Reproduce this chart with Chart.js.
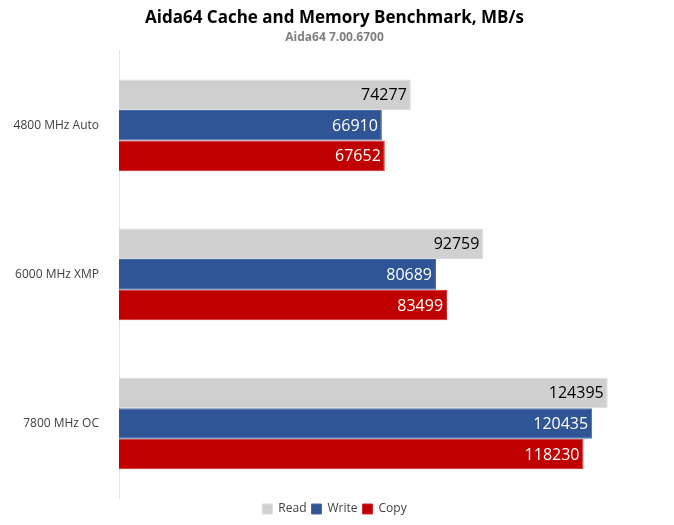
<!DOCTYPE html>
<html lang="en">
<head>
  <meta charset="UTF-8">
  <title>Aida64 Cache and Memory Benchmark</title>
  <script src="https://cdn.jsdelivr.net/npm/chart.js"></script>
  <style>
    body {
      margin: 0;
      background: #ffffff;
    }
    #wrap {
      width: 674px;
      height: 525px;
    }
  </style>
</head>
<body>
  <div id="wrap"><canvas id="benchChart"></canvas></div>

  <script>
    const categories = ['4800 MHz Auto', '6000 MHz XMP', '7800 MHz OC'];
    const readValues = [74277, 92759, 124395];
    const writeValues = [66910, 80689, 120435];
    const copyValues = [67652, 83499, 118230];
    const seriesNames = ['Read', 'Write', 'Copy'];

    const fontFam = "'Open Sans', 'Noto Sans', sans-serif";

    // labels at the end of each bar, inside
    const barLabels = {
      id: 'barLabels',
      afterDatasetsDraw(chart) {
        const ctx = chart.ctx;
        ctx.save();
        ctx.font = '16px ' + fontFam;
        ctx.textAlign = 'right';
        ctx.textBaseline = 'middle';
        chart.data.datasets.forEach((ds, i) => {
          const meta = chart.getDatasetMeta(i);
          meta.data.forEach((bar, j) => {
            ctx.fillStyle = i === 0 ? '#000000' : '#ffffff';
            ctx.fillText(ds.data[j], bar.x - 4, bar.y + 1);
          });
        });
        ctx.restore();
      }
    };

    const ctx = document.getElementById('benchChart').getContext('2d');
    new Chart(ctx, {
      type: 'bar',
      data: {
        labels: categories,
        datasets: [
          { label: seriesNames[0], data: readValues, backgroundColor: '#d0d0d0', borderColor: '#dcdcdc', borderWidth: 1 },
          { label: seriesNames[1], data: writeValues, backgroundColor: '#2f5597', borderColor: '#4a6ca8', borderWidth: 1 },
          { label: seriesNames[2], data: copyValues, backgroundColor: '#c00000', borderColor: '#d02a2a', borderWidth: 1 }
        ]
      },
      options: {
        indexAxis: 'y',
        responsive: true,
        maintainAspectRatio: false,
        animation: false,
        layout: { padding: { left: 0, right: 5, top: 0, bottom: 0 } },
        datasets: {
          bar: { categoryPercentage: 0.615, barPercentage: 1.0 }
        },
        scales: {
          x: {
            display: false,
            min: 0,
            max: 140000
          },
          y: {
            grid: { display: false },
            border: { display: true, color: '#e4e4e4' },
            ticks: {
              color: '#404040',
              font: { family: fontFam, size: 12 },
              padding: 12
            },
            afterFit(scale) { scale.width = 119; }
          }
        },
        plugins: {
          title: {
            display: true,
            text: 'Aida64 Cache and Memory Benchmark, MB/s',
            color: '#000000',
            font: { family: fontFam, size: 17, weight: 'bold' },
            padding: { top: 8, bottom: 2 }
          },
          subtitle: {
            display: true,
            text: 'Aida64 7.00.6700',
            color: '#7f7f7f',
            font: { family: fontFam, size: 12, weight: 'bold' },
            padding: { top: 0, bottom: 6 }
          },
          legend: {
            position: 'bottom',
            labels: {
              color: '#404040',
              font: { family: fontFam, size: 12 },
              boxWidth: 10,
              boxHeight: 10,
              padding: 5
            }
          },
          tooltip: { enabled: false }
        }
      },
      plugins: [barLabels]
    });
  </script>
</body>
</html>
